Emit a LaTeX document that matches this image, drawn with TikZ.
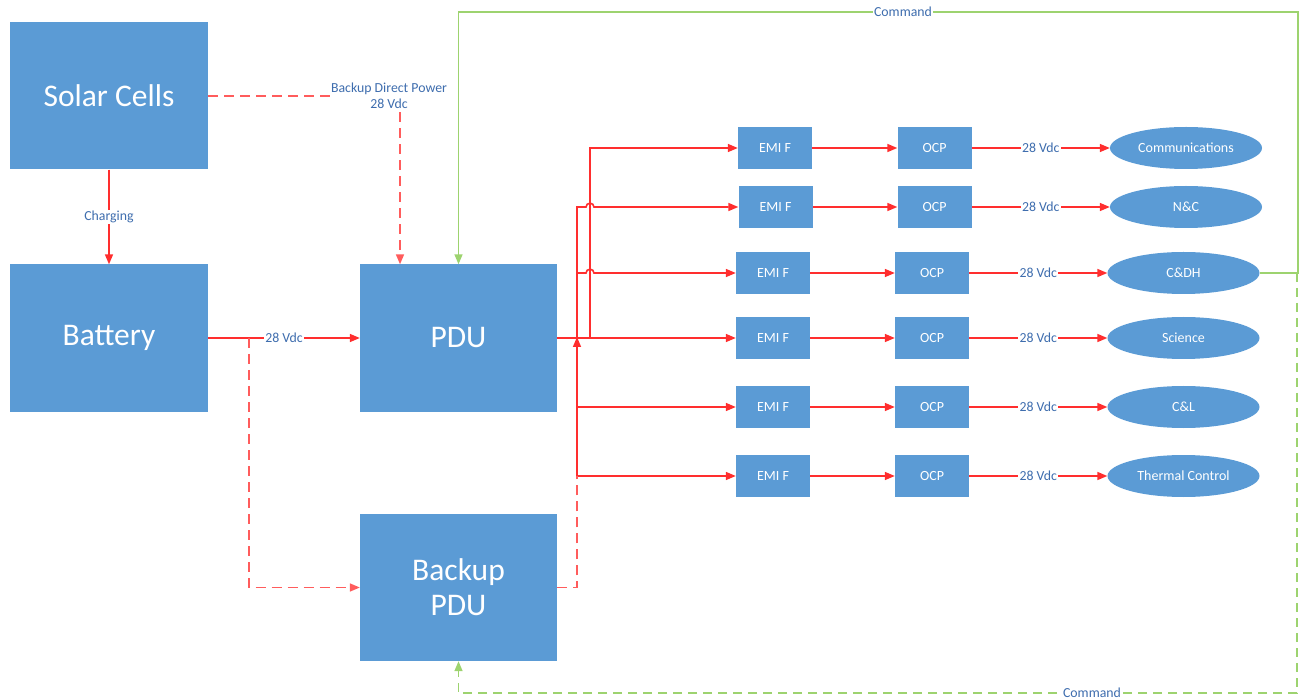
\documentclass[tikz,border=0pt]{standalone}
\usepackage{fontspec}
\setmainfont{Carlito}
\usetikzlibrary{shapes.geometric,arrows.meta}
\definecolor{boxblue}{HTML}{5B9BD5}
\definecolor{labelblue}{HTML}{3E6DAE}
\definecolor{pwred}{HTML}{FF2E2E}
\definecolor{dashred}{HTML}{FF5C5C}
\definecolor{cmdgreen}{HTML}{9DD36F}
\begin{document}
\begin{tikzpicture}[x=1pt,y=-1pt,
  bigbox/.style={fill=boxblue, text=white, minimum width=198pt, minimum height=147pt,
    inner sep=0pt, font=\fontsize{31.5}{35}\selectfont, align=center},
  smallbox/.style={fill=boxblue, text=white, minimum width=74pt, minimum height=42pt,
    inner sep=0pt, font=\fontsize{14}{16}\selectfont},
  load/.style={ellipse, fill=boxblue, text=white, minimum width=152pt, minimum height=42pt,
    inner sep=0pt, font=\fontsize{14}{16}\selectfont},
  lbl/.style={fill=white, text=labelblue, inner sep=1.5pt,
    font=\fontsize{13.8}{16}\selectfont, align=center},
  tip/.style={-{Triangle[length=10pt,width=8pt]}},
  pw/.style={draw=pwred, line width=1.6pt},
  bk/.style={draw=dashred, line width=1.6pt, dash pattern=on 10pt off 6pt},
  cmd/.style={draw=cmdgreen, line width=1.6pt},
  cmdbk/.style={draw=cmdgreen, line width=1.6pt, dash pattern=on 9pt off 6pt},
]
\useasboundingbox (0,0) rectangle (1301,700);

% main blocks
\node[bigbox] (solar) at (109,96) {Solar Cells};
\node[bigbox] (bat) at (109,338) {Battery};
\node[bigbox, minimum width=197pt] (pdu) at (458.5,338) {PDU};
\node[bigbox, minimum width=197pt] (bpdu) at (458.5,587.5) {Backup\\PDU};

% load channels: filter, over-current protection, consumer
\foreach \i/\y/\ex/\ox/\lx/\t in {
    1/148/775/934.5/1186/Communications,
    2/207/775.5/934.5/1186/N\&C,
    3/273/773/932/1183.5/C\&DH,
    4/338/773/932/1183.5/Science,
    5/407/773/932/1183.5/C\&L,
    6/476/773/932/1183.5/Thermal Control} {
  \node[smallbox] (e\i) at (\ex,\y) {EMI F};
  \node[smallbox] (o\i) at (\ox,\y) {OCP};
  \node[load] (l\i) at (\lx,\y) {\t};
  \draw[pw,tip] (e\i.east) -- (o\i.west);
  \draw[pw,tip] (o\i.east) -- node[lbl] {28 Vdc} (l\i.west);
}

% charging and primary bus
\draw[pw,tip] (solar.south) -- node[lbl] {Charging} (bat.north);
\draw[pw,tip] (bat.east) -- node[lbl] {28 Vdc} (pdu.west);

% backup direct power from the solar cells
\coordinate (sp) at (400,96);
\draw[bk,tip] (solar.east) -- (sp) -- (sp |- pdu.north);
\node[lbl] (bdp) at (389,96) {Backup Direct Power\\28 Vdc};

% battery feed to the backup PDU
\coordinate (bj) at (249,338);
\draw[bk,tip] (bj) |- (bpdu.west);

% distribution bus
\coordinate (busL) at (577,338);
\coordinate (busR) at (590,338);
\draw[pw,tip] (pdu.east) -- (e4.west);
\draw[pw,tip] (pdu.east) -- (busR) |- (e1.west);
\coordinate (j2a) at (586,207);
\coordinate (j2b) at (594,207);
\coordinate (j3a) at (586,273);
\coordinate (j3b) at (594,273);
\draw[pw,tip] (busL) |- (j2a) .. controls (586,202) and (594,202) .. (j2b) -- (e2.west);
\draw[pw,tip] (busL) |- (j3a) .. controls (586,268) and (594,268) .. (j3b) -- (e3.west);
\coordinate (b5) at (577,407);
\coordinate (b6) at (577,476);
\draw[pw,tip] (b5) -- (e5.west);
\draw[pw,tip] (b6) -- (e6.west);
\draw[bk] (bpdu.east) -| (b6);
\draw[pw,-{Triangle[length=10pt,width=8pt]}, shorten >=-1pt] (b6) -- (busL);

% command links from C&DH
\coordinate (gR) at (1298,273);
\coordinate (gTR) at (1298,12);
\coordinate (gTL) at (458.5,12);
\draw[cmd,tip] (l3.east) -- (gR) -- (gTR) -- (gTL) -- (pdu.north);
\node[lbl] (cmdtop) at (903,12) {Command};

\coordinate (gD) at (1297,273);
\coordinate (gBR) at (1297,693);
\coordinate (gBL) at (458.5,693);
\draw[cmdbk,tip] (gD) -- (gBR) -- (gBL) -- (bpdu.south);
\node[lbl] (cmdbot) at (1092,693) {Command};
\end{tikzpicture}
\end{document}
